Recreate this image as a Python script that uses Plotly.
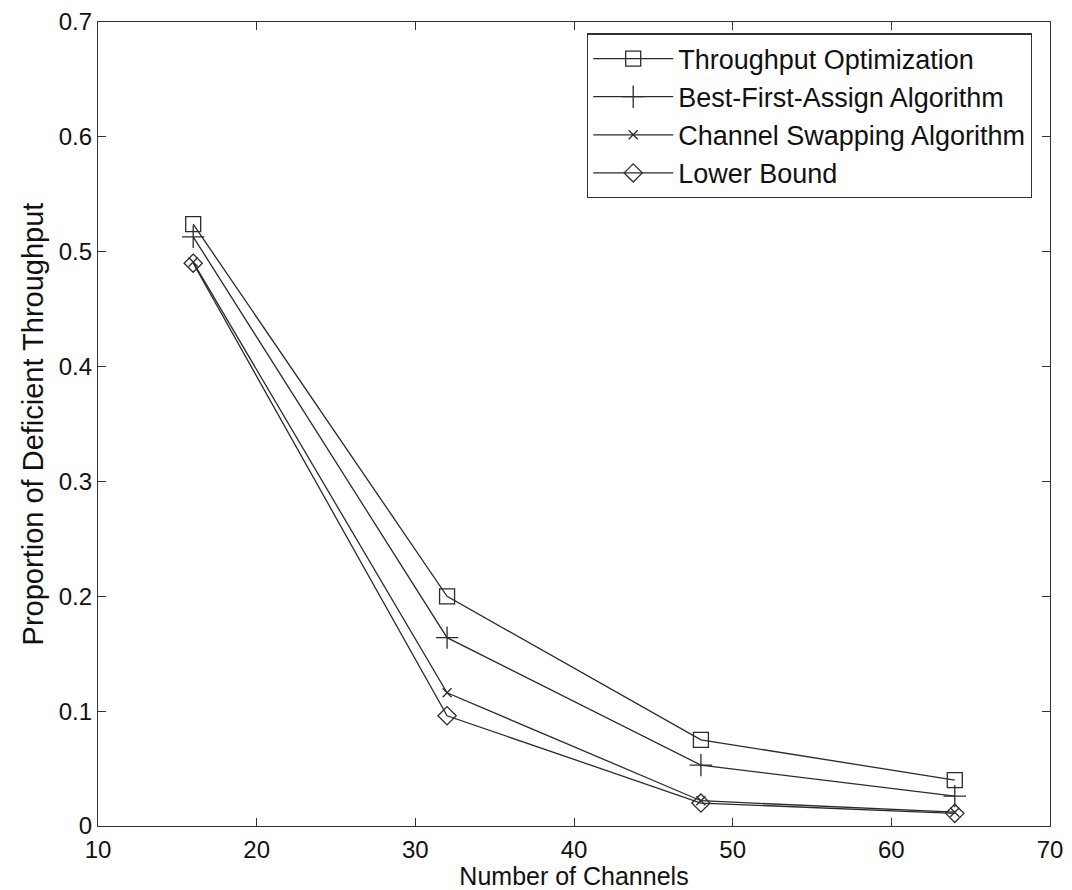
import plotly.graph_objects as go

channels = [16, 32, 48, 64]
throughput_opt = [0.524, 0.200, 0.075, 0.040]
best_first = [0.513, 0.164, 0.053, 0.026]
channel_swap = [0.491, 0.116, 0.022, 0.012]
lower_bound = [0.490, 0.096, 0.020, 0.011]

series = [
    ("Throughput Optimization", throughput_opt, "square-open", 15),
    ("Best-First-Assign Algorithm", best_first, "cross-thin-open", 16),
    ("Channel Swapping Algorithm", channel_swap, "x-thin-open", 9),
    ("Lower Bound", lower_bound, "diamond-open", 14),
]

x_ticks = [10, 20, 30, 40, 50, 60, 70]
y_ticks = [0, 0.1, 0.2, 0.3, 0.4, 0.5, 0.6, 0.7]

fig = go.Figure()
for name, vals, sym, size in series:
    fig.add_trace(go.Scatter(
        x=channels, y=vals, name=name, mode="lines+markers",
        line=dict(color="#2b2b2b", width=1.3),
        marker=dict(symbol=sym, size=size, color="#2b2b2b",
                    line=dict(color="#2b2b2b", width=1.3)),
    ))

axis_common = dict(
    showgrid=False, zeroline=False, showline=True, linecolor="#333",
    linewidth=1.3, mirror="ticks", ticks="inside", ticklen=8,
    tickcolor="#333", tickwidth=1, automargin=False,
    tickfont=dict(family="Liberation Sans, Arial", size=24, color="#111"),
)

fig.update_layout(
    width=1072, height=890,
    margin=dict(l=98, r=22, t=22, b=64),
    paper_bgcolor="white", plot_bgcolor="white",
    font=dict(family="Liberation Sans, Arial", size=24, color="#111"),
    xaxis=dict(range=[10, 70], tickvals=x_ticks, ticklabelstandoff=2,
               title=dict(text="Number of Channels", standoff=8,
                          font=dict(size=25)), **axis_common),
    yaxis=dict(range=[0, 0.7], tickvals=y_ticks,
               ticktext=["0", "0.1", "0.2", "0.3", "0.4", "0.5", "0.6", "0.7"],
               title=dict(text="Proportion of Deficient Throughput", standoff=6,
                          font=dict(size=29)), **axis_common),
    legend=dict(x=0.981, y=0.986, xanchor="right", yanchor="top",
                bgcolor="white", bordercolor="#333", borderwidth=1.3,
                font=dict(size=27), itemwidth=80, tracegroupgap=0),
    showlegend=True,
)

fig.write_html("out.html")
